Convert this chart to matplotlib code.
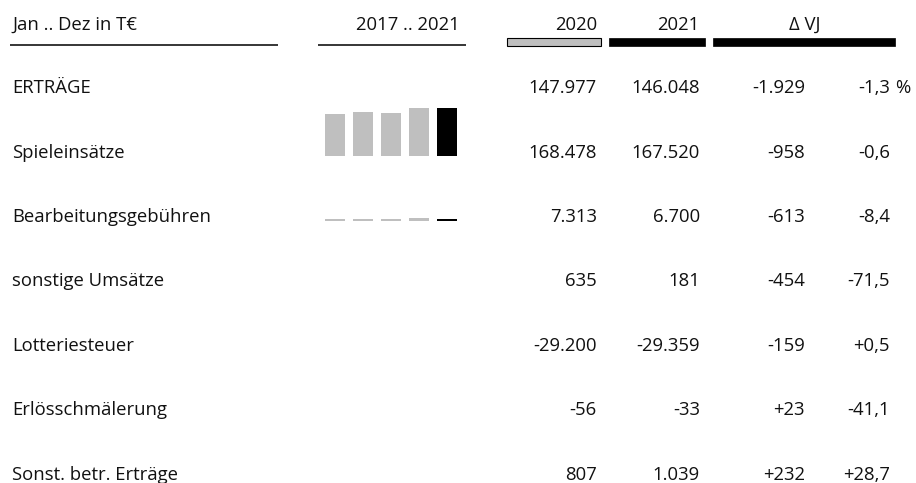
import matplotlib
matplotlib.use("Agg")
import matplotlib.pyplot as plt
from matplotlib.patches import Rectangle

plt.rcParams['font.family'] = ['Open Sans', 'DejaVu Sans']

# --- data -------------------------------------------------------------
rows = ['ERTRÄGE', 'Spieleinsätze', 'Bearbeitungsgebühren', 'sonstige Umsätze',
        'Lotteriesteuer', 'Erlösschmälerung', 'Sonst. betr. Erträge']
vals_2020 = ['147.977', '168.478', '7.313', '635', '-29.200', '-56', '807']
vals_2021 = ['146.048', '167.520', '6.700', '181', '-29.359', '-33', '1.039']
delta_abs = ['-1.929', '-958', '-613', '-454', '-159', '+23', '+232']
delta_pct = ['-1,3', '-0,6', '-8,4', '-71,5', '+0,5', '-41,1', '+28,7']

years = [2017, 2018, 2019, 2020, 2021]
# sparkline values (T€) for 2017..2021, estimated for earlier years
spark = {
    'Spieleinsätze': [147200, 152800, 150700, 168478, 167520],
    'Bearbeitungsgebühren': [7100, 7200, 7250, 7313, 6700],
    'sonstige Umsätze': [1150, 1100, 700, 635, 181],
    'Sonst. betr. Erträge': [820, 790, 760, 807, 1039],
}
spark_max = 170000

# --- layout -------------------------------------------------------------
W, H = 916, 483
fig = plt.figure(figsize=(W / 100, H / 100), dpi=100)
ax = fig.add_axes([0, 0, 1, 1])
ax.set_xlim(0, W)
ax.set_ylim(H, 0)
ax.axis('off')

fs = 13.3
txt = dict(fontsize=fs, color='#111111', va='baseline')

# header
ax.text(12, 30, 'Jan .. Dez in T€', ha='left', **txt)
ax.text(460, 30, '2017 .. 2021', ha='right', **txt)
ax.text(597, 30, '2020', ha='right', **txt)
ax.text(699, 30, '2021', ha='right', **txt)
ax.text(805, 30, 'Δ VJ', ha='center', **txt)
ax.plot([10, 278], [45, 45], color='black', lw=1.1, solid_capstyle='butt')
ax.plot([318, 466], [45, 45], color='black', lw=1.1, solid_capstyle='butt')
ax.add_patch(Rectangle((507, 37.5), 94, 8, facecolor='#BFBFBF', edgecolor='black', lw=0.8))
ax.add_patch(Rectangle((609, 37.5), 96, 8, facecolor='black', edgecolor='black', lw=0.5))
ax.add_patch(Rectangle((713, 37.5), 182, 8, facecolor='black', edgecolor='black', lw=0.5))

y0, dy = 93.3, 64.4
for i, name in enumerate(rows):
    y = y0 + i * dy
    ax.text(12, y, name, ha='left', **txt)
    ax.text(597, y, vals_2020[i], ha='right', **txt)
    ax.text(700, y, vals_2021[i], ha='right', **txt)
    ax.text(805, y, delta_abs[i], ha='right', **txt)
    ax.text(890, y, delta_pct[i], ha='right', **txt)
    if i == 0:
        ax.text(895, y, '%', ha='left', **txt)

    if name in spark:
        bottom = y - 1.5
        h = 49
        sax = fig.add_axes([321 / W, 1 - bottom / H, 140 / W, h / H])
        colors = ['#BFBFBF'] * 4 + ['black']
        sax.bar(range(len(years)), spark[name], width=20 / 28, color=colors)
        sax.set_xlim(-0.5, 4.5)
        sax.set_ylim(0, spark_max)
        sax.axis('off')

fig.savefig('out.png', dpi=100)
